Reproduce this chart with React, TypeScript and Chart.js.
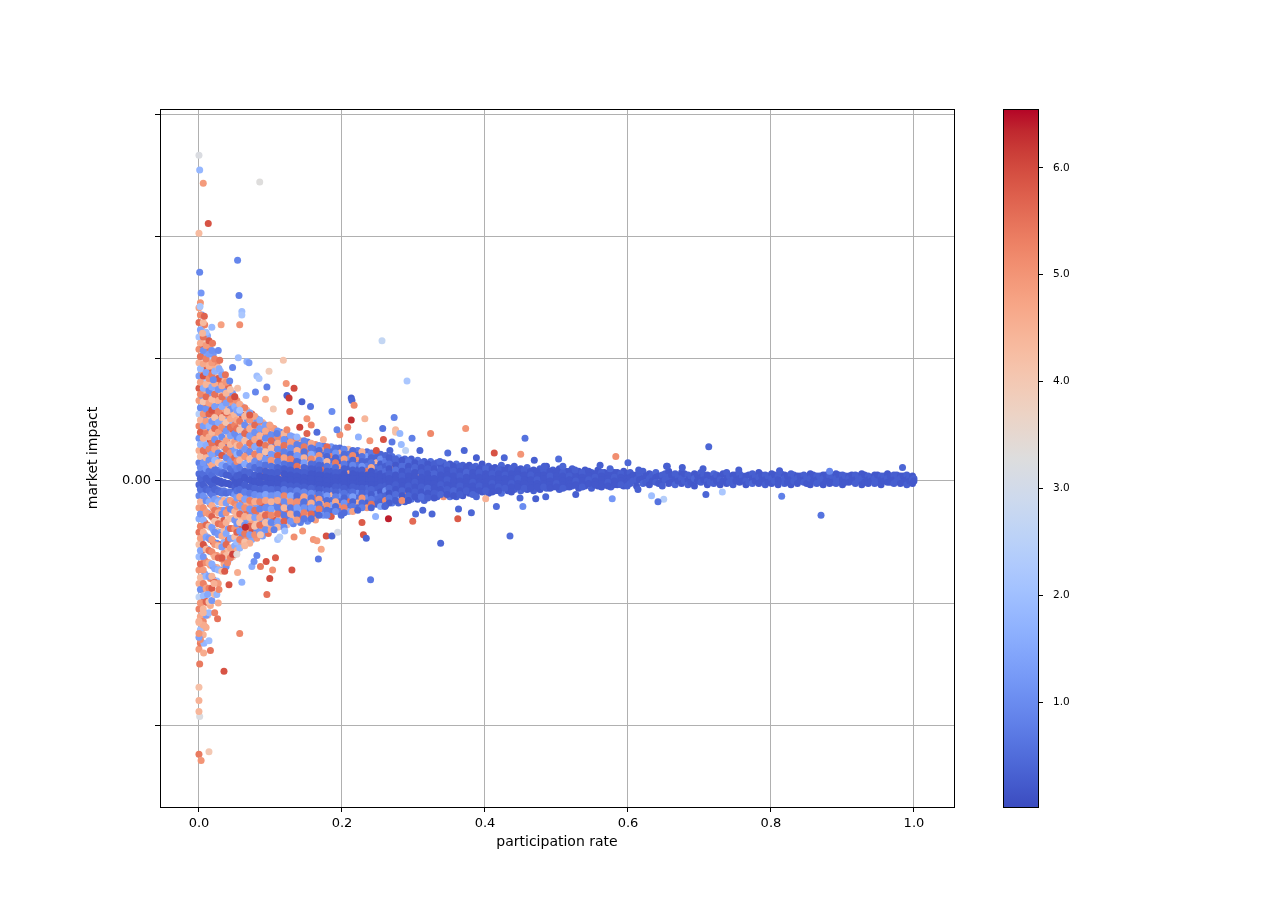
import { useEffect, useRef } from 'react';
import { Chart, registerables } from 'chart.js';

Chart.register(...registerables);

// a column is [x, y0, c0, y1, c1, ...] : one participation rate, several (impact, colour value) pairs
type Column = number[];
type Point = [number, number, number];

const xTicks = [0, 0.2, 0.4, 0.6, 0.8, 1.0];
const yTicks = [-2, -1, 0, 1, 2, 3];
const colorTicks = [1, 2, 3, 4, 5, 6];
const colorMin = 0.02;
const colorMax = 6.55;

const nearZeroColumns: Column[] = [
    [0.000, 1.42,4.8, 1.30,5.6, 1.18,2.1, 1.08,5.1, 0.97,4.4, 0.86,1.3, 0.76,5.8, 0.66,4.9, 0.55,2.4, 0.45,5.3, 0.35,1.1, 0.25,4.6, 0.15,0.8, 0.06,0.5, -0.03,0.4, -0.12,0.9, -0.22,4.9, -0.31,1.6, -0.42,5.5, -0.52,4.2, -0.62,1.9, -0.73,5.0, -0.84,4.6, -0.95,2.6, -1.05,5.3, -1.16,4.4, -1.38,4.9],
    [0.004, 1.36,1.0, 1.24,4.5, 1.12,5.9, 1.02,1.7, 0.91,5.0, 0.81,4.3, 0.70,1.2, 0.60,5.6, 0.50,3.8, 0.40,1.5, 0.30,5.2, 0.20,1.0, 0.10,0.6, 0.01,0.3, -0.08,0.7, -0.17,1.4, -0.27,5.4, -0.37,4.0, -0.47,1.1, -0.57,5.7, -0.68,4.5, -0.79,2.0, -0.89,5.1, -1.00,4.7, -1.10,1.6, -1.21,5.0],
    [0.008, 1.28,5.3, 1.16,4.0, 1.05,1.4, 0.94,5.8, 0.84,2.2, 0.73,4.6, 0.63,5.4, 0.53,1.0, 0.43,4.8, 0.33,2.0, 0.23,5.6, 0.13,0.9, 0.04,0.4, -0.05,0.3, -0.14,1.2, -0.24,4.4, -0.34,5.8, -0.44,1.9, -0.54,4.9, -0.65,5.3, -0.76,1.3, -0.86,4.1, -0.97,5.6, -1.08,2.3, -1.19,4.8],
    [0.012, 1.19,1.6, 1.08,5.5, 0.98,4.3, 0.88,0.9, 0.78,5.0, 0.68,4.7, 0.58,1.8, 0.48,6.0, 0.38,4.2, 0.29,1.2, 0.19,5.1, 0.10,0.8, 0.02,0.3, -0.07,0.5, -0.16,4.7, -0.26,1.5, -0.36,5.2, -0.46,4.6, -0.56,1.1, -0.67,5.8, -0.78,4.3, -0.89,2.1, -1.00,5.0, -1.10,4.4],
    [0.016, 1.12,4.9, 1.01,2.3, 0.91,5.7, 0.81,4.4, 0.71,1.3, 0.61,5.2, 0.52,4.0, 0.42,0.9, 0.33,5.9, 0.24,1.7, 0.15,4.5, 0.07,0.6, -0.01,0.2, -0.10,0.8, -0.19,5.4, -0.28,1.9, -0.38,4.3, -0.48,5.6, -0.58,1.4, -0.69,4.8, -0.80,5.2, -0.91,1.7, -1.02,4.6],
    [0.020, 1.04,1.2, 0.94,4.6, 0.84,5.9, 0.74,1.9, 0.65,4.2, 0.56,5.5, 0.46,1.1, 0.37,4.9, 0.28,2.5, 0.19,5.3, 0.11,0.9, 0.03,0.4, -0.05,0.3, -0.13,1.0, -0.22,5.0, -0.31,4.4, -0.40,1.6, -0.50,5.8, -0.60,4.1, -0.70,1.2, -0.81,5.4, -0.92,4.5],
    [0.025, 0.97,5.2, 0.87,4.1, 0.78,1.5, 0.69,5.7, 0.60,4.4, 0.51,1.0, 0.42,5.0, 0.34,2.2, 0.25,4.7, 0.17,1.3, 0.09,0.7, 0.01,0.3, -0.07,0.6, -0.15,4.8, -0.23,1.8, -0.32,5.5, -0.41,4.2, -0.51,1.0, -0.61,5.1, -0.71,4.6, -0.82,2.0],
    [0.030, 0.90,1.8, 0.81,5.4, 0.72,4.3, 0.64,1.1, 0.55,5.8, 0.47,4.5, 0.39,1.4, 0.31,5.1, 0.23,2.6, 0.15,4.4, 0.08,0.8, 0.00,0.2, -0.08,0.5, -0.16,1.3, -0.24,5.2, -0.33,4.0, -0.42,1.5, -0.52,5.6, -0.62,4.4, -0.73,1.1],
    [0.035, 0.84,4.5, 0.75,1.2, 0.67,5.3, 0.59,4.8, 0.51,1.6, 0.43,5.6, 0.35,4.1, 0.28,0.9, 0.21,5.0, 0.14,1.9, 0.07,0.5, -0.01,0.3, -0.08,0.7, -0.16,4.6, -0.24,1.2, -0.32,5.7, -0.41,4.3, -0.50,1.7, -0.59,5.0, -0.68,4.7],
    [0.041, 0.78,5.6, 0.70,1.5, 0.62,4.6, 0.54,5.2, 0.46,1.0, 0.39,4.3, 0.32,5.8, 0.25,1.6, 0.18,4.9, 0.12,1.1, 0.05,0.4, -0.02,0.2, -0.09,0.8, -0.16,1.5, -0.23,5.3, -0.31,4.1, -0.39,1.3, -0.48,5.5, -0.56,4.4, -0.65,1.9],
    [0.047, 0.72,1.3, 0.64,5.0, 0.57,4.5, 0.49,1.8, 0.42,5.7, 0.35,4.2, 0.28,1.1, 0.21,5.3, 0.15,2.0, 0.09,0.7, 0.03,0.3, -0.03,0.4, -0.10,0.9, -0.17,4.8, -0.24,1.4, -0.31,5.1, -0.39,4.6, -0.47,1.2, -0.55,5.4, -0.62,4.0],
];

const nearZeroFill: Column[] = [
    [0.002, 1.36,5.2, 1.24,1.5, 1.13,4.6, 1.02,5.5, 0.92,1.9, 0.81,4.8, 0.71,5.2, 0.60,1.0, 0.50,4.5, 0.40,5.7, 0.30,1.8, 0.20,4.2, 0.11,1.0, 0.02,0.4, -0.07,0.6, -0.17,4.5, -0.27,1.2, -0.37,5.3, -0.47,4.8, -0.57,1.5, -0.68,5.6, -0.79,4.3, -0.89,1.1, -1.00,5.0, -1.11,4.7, -1.22,2.0, -1.33,5.4],
    [0.006, 1.30,4.3, 1.18,5.5, 1.07,1.1, 0.96,4.7, 0.86,5.9, 0.76,1.6, 0.65,4.1, 0.55,5.0, 0.45,1.3, 0.35,4.6, 0.25,5.5, 0.15,1.2, 0.06,0.5, -0.03,0.3, -0.12,1.1, -0.22,5.1, -0.32,1.7, -0.42,4.5, -0.52,5.9, -0.62,1.2, -0.73,4.9, -0.84,5.3, -0.94,1.9, -1.05,4.4, -1.15,5.2, -1.26,4.5],
    [0.010, 1.22,2.0, 1.11,4.9, 1.00,5.3, 0.89,1.4, 0.79,4.4, 0.69,5.6, 0.59,1.1, 0.49,4.9, 0.39,5.4, 0.29,1.6, 0.19,4.4, 0.10,1.2, 0.02,0.3, -0.07,0.4, -0.16,1.0, -0.26,4.9, -0.36,5.6, -0.46,1.4, -0.56,4.4, -0.67,5.1, -0.78,1.8, -0.88,4.8, -0.99,5.7, -1.10,1.3, -1.20,4.6],
    [0.014, 1.15,5.8, 1.04,1.3, 0.94,4.5, 0.84,5.1, 0.74,1.0, 0.64,4.8, 0.55,5.7, 0.45,1.7, 0.36,4.6, 0.26,5.3, 0.17,1.1, 0.08,0.6, 0.00,0.3, -0.08,0.5, -0.17,1.5, -0.27,5.0, -0.37,4.3, -0.47,1.2, -0.57,5.5, -0.67,4.6, -0.78,1.4, -0.88,5.3, -0.99,4.2, -1.08,1.9],
    [0.018, 1.07,1.1, 0.97,4.9, 0.87,5.4, 0.77,1.5, 0.67,4.3, 0.58,5.9, 0.49,1.2, 0.40,4.4, 0.31,5.5, 0.22,1.4, 0.13,4.7, 0.05,0.5, -0.03,0.3, -0.11,0.7, -0.20,4.6, -0.29,5.7, -0.38,1.3, -0.48,4.9, -0.58,5.2, -0.68,1.6, -0.78,4.4, -0.88,5.8, -0.98,1.2],
    [0.022, 1.00,5.3, 0.90,1.7, 0.80,4.6, 0.71,5.5, 0.61,1.3, 0.52,4.2, 0.43,5.6, 0.34,1.1, 0.26,4.8, 0.17,1.8, 0.09,0.6, 0.01,0.2, -0.07,0.4, -0.15,1.3, -0.24,5.4, -0.33,4.1, -0.42,1.1, -0.52,5.0, -0.62,4.7, -0.72,1.5, -0.83,5.6, -0.93,4.3],
    [0.027, 0.93,4.4, 0.84,5.8, 0.75,1.2, 0.66,4.5, 0.57,5.3, 0.48,1.5, 0.40,4.9, 0.31,5.7, 0.23,1.0, 0.15,4.3, 0.07,0.6, -0.01,0.2, -0.09,0.5, -0.17,1.6, -0.26,4.7, -0.35,5.5, -0.44,1.2, -0.53,4.4, -0.63,5.7, -0.73,1.8, -0.84,4.9],
    [0.032, 0.87,1.4, 0.78,4.7, 0.69,5.5, 0.61,1.6, 0.52,4.3, 0.44,5.1, 0.36,1.0, 0.29,4.6, 0.21,5.8, 0.13,1.4, 0.06,0.5, -0.02,0.2, -0.10,0.6, -0.18,4.4, -0.27,1.1, -0.36,5.3, -0.45,4.6, -0.54,1.3, -0.64,5.4, -0.74,4.2],
    [0.038, 0.81,5.0, 0.72,4.4, 0.64,1.3, 0.56,5.6, 0.48,4.1, 0.41,1.2, 0.33,4.8, 0.26,5.4, 0.19,1.0, 0.12,0.8, 0.05,0.3, -0.02,0.2, -0.10,0.5, -0.18,1.3, -0.26,5.0, -0.34,4.5, -0.43,1.5, -0.52,5.6, -0.61,4.3, -0.70,1.1],
    [0.044, 0.75,4.2, 0.67,5.4, 0.59,1.1, 0.51,4.7, 0.44,5.5, 0.37,1.4, 0.30,4.4, 0.23,5.1, 0.16,1.2, 0.10,0.6, 0.04,0.3, -0.03,0.2, -0.09,0.6, -0.16,4.9, -0.23,1.0, -0.31,4.3, -0.39,5.6, -0.47,1.4, -0.55,4.8, -0.63,5.3],
    [0.050, 0.69,5.5, 0.61,1.6, 0.54,4.4, 0.46,5.3, 0.39,1.0, 0.32,4.9, 0.25,1.3, 0.19,5.6, 0.13,0.9, 0.07,0.5, 0.01,0.2, -0.05,0.3, -0.11,1.1, -0.18,5.2, -0.25,4.5, -0.32,1.2, -0.39,5.0, -0.46,4.3, -0.53,1.6, -0.60,5.5],
];

const middleColumns: Column[] = [
    [0.053, 0.66,5.1, 0.58,1.4, 0.50,4.7, 0.43,5.5, 0.36,1.0, 0.29,4.3, 0.22,1.7, 0.16,5.2, 0.10,0.8, 0.04,0.3, -0.02,0.2, -0.08,0.6, -0.14,1.3, -0.21,5.0, -0.28,4.4, -0.35,1.1, -0.42,5.7, -0.50,1.9, -0.57,4.6],
    [0.060, 0.61,1.9, 0.54,5.8, 0.47,4.0, 0.40,1.2, 0.33,5.0, 0.27,1.6, 0.20,4.8, 0.14,0.9, 0.08,0.5, 0.02,0.2, -0.04,0.3, -0.10,0.9, -0.17,5.3, -0.24,1.5, -0.31,4.5, -0.38,5.6, -0.45,1.0, -0.52,4.9],
    [0.067, 0.58,4.4, 0.51,1.1, 0.44,5.4, 0.38,4.9, 0.31,1.4, 0.25,5.7, 0.19,1.0, 0.13,4.2, 0.07,0.6, 0.01,0.2, -0.05,0.4, -0.11,1.2, -0.18,4.6, -0.25,5.5, -0.32,1.3, -0.39,4.1, -0.46,5.2],
    [0.074, 0.55,5.6, 0.48,1.7, 0.42,4.5, 0.35,1.0, 0.29,5.2, 0.23,4.0, 0.17,1.2, 0.11,0.7, 0.05,0.3, -0.01,0.2, -0.07,0.5, -0.13,1.6, -0.20,5.0, -0.27,1.1, -0.34,4.8, -0.41,5.9, -0.48,1.5],
    [0.081, 0.51,1.2, 0.45,4.9, 0.39,5.5, 0.33,1.5, 0.27,4.4, 0.21,1.0, 0.15,5.3, 0.10,0.6, 0.04,0.3, -0.02,0.2, -0.08,0.8, -0.14,4.7, -0.20,1.3, -0.27,5.4, -0.34,4.2, -0.41,1.0, -0.47,5.0],
    [0.089, 0.48,4.6, 0.42,1.0, 0.36,5.1, 0.30,1.8, 0.24,4.7, 0.19,1.1, 0.13,0.6, 0.08,5.5, 0.03,0.2, -0.03,0.3, -0.08,0.5, -0.14,1.2, -0.20,5.8, -0.26,4.3, -0.32,1.1, -0.39,5.2, -0.45,1.4],
    [0.097, 0.45,1.1, 0.39,5.3, 0.34,4.1, 0.28,1.3, 0.23,5.8, 0.17,0.9, 0.12,4.4, 0.07,0.4, 0.02,0.2, -0.03,0.3, -0.08,0.7, -0.13,4.9, -0.19,1.0, -0.25,5.3, -0.31,1.6, -0.37,4.6, -0.43,5.5],
    [0.105, 0.43,5.0, 0.37,1.4, 0.32,0.8, 0.27,5.6, 0.21,1.1, 0.16,4.5, 0.11,0.5, 0.06,0.3, 0.01,0.2, -0.04,0.4, -0.09,1.0, -0.14,5.1, -0.20,0.9, -0.26,4.4, -0.32,5.8, -0.38,1.2],
    [0.114, 0.40,0.9, 0.35,4.8, 0.30,1.2, 0.25,5.4, 0.20,0.7, 0.15,1.5, 0.10,0.4, 0.05,4.9, 0.01,0.2, -0.04,0.3, -0.09,0.6, -0.14,1.3, -0.19,5.6, -0.25,0.8, -0.31,4.7, -0.37,1.1],
    [0.123, 0.38,5.7, 0.33,0.8, 0.28,4.3, 0.23,1.0, 0.18,5.2, 0.13,0.6, 0.09,0.3, 0.04,0.2, -0.01,0.2, -0.05,0.4, -0.10,0.9, -0.15,4.8, -0.20,1.2, -0.26,5.5, -0.31,0.7, -0.36,4.2],
    [0.132, 0.36,1.0, 0.31,5.0, 0.26,0.7, 0.21,1.6, 0.17,5.8, 0.12,0.5, 0.08,0.3, 0.03,0.2, -0.01,0.2, -0.06,0.5, -0.10,1.4, -0.15,0.8, -0.20,5.3, -0.25,1.0, -0.30,4.6, -0.35,0.9],
    [0.142, 0.33,4.5, 0.29,0.8, 0.24,5.2, 0.20,1.1, 0.15,0.6, 0.11,4.7, 0.07,0.3, 0.03,0.2, -0.02,0.2, -0.06,0.4, -0.10,0.8, -0.15,5.0, -0.19,0.7, -0.24,1.5, -0.29,5.6, -0.34,0.8],
    [0.152, 0.32,0.7, 0.27,1.4, 0.23,5.5, 0.19,0.6, 0.14,4.4, 0.10,0.4, 0.06,0.3, 0.02,0.2, -0.02,0.2, -0.06,0.3, -0.10,0.6, -0.14,1.2, -0.19,5.1, -0.23,0.7, -0.28,4.8, -0.33,1.0],
    [0.163, 0.30,5.1, 0.26,0.6, 0.22,0.9, 0.18,4.6, 0.14,0.5, 0.10,0.3, 0.06,0.2, 0.02,0.2, -0.02,0.2, -0.06,0.3, -0.10,0.7, -0.14,5.4, -0.18,0.8, -0.23,1.3, -0.27,0.6, -0.32,4.9],
    [0.174, 0.29,0.8, 0.25,4.9, 0.21,0.5, 0.17,1.3, 0.13,0.4, 0.09,5.6, 0.05,0.2, 0.01,0.2, -0.03,0.2, -0.07,0.4, -0.11,0.9, -0.15,0.5, -0.19,4.7, -0.23,0.7, -0.28,1.1],
    [0.185, 0.28,1.2, 0.24,0.6, 0.20,5.3, 0.16,0.5, 0.12,0.9, 0.08,0.3, 0.04,0.2, 0.00,0.2, -0.04,0.2, -0.08,0.5, -0.12,4.5, -0.16,0.6, -0.20,1.4, -0.25,0.5, -0.29,5.8],
    [0.197, 0.27,0.5, 0.23,4.7, 0.19,0.8, 0.15,0.4, 0.11,5.0, 0.07,0.3, 0.03,0.2, -0.01,0.2, -0.05,0.3, -0.09,0.6, -0.13,1.1, -0.17,0.5, -0.21,5.2, -0.25,0.7],
    [0.209, 0.26,4.3, 0.22,0.6, 0.18,1.0, 0.14,0.4, 0.10,0.3, 0.06,4.8, 0.03,0.2, -0.01,0.2, -0.05,0.2, -0.09,0.4, -0.13,0.8, -0.17,5.5, -0.21,0.6, -0.25,1.3],
    [0.222, 0.25,0.7, 0.21,0.4, 0.17,5.1, 0.13,0.6, 0.09,0.3, 0.05,0.2, 0.02,0.2, -0.02,0.2, -0.06,0.3, -0.10,1.0, -0.14,0.5, -0.18,4.6, -0.22,0.5],
    [0.235, 0.24,0.5, 0.20,1.3, 0.16,0.4, 0.12,0.7, 0.08,5.4, 0.05,0.2, 0.01,0.2, -0.03,0.2, -0.06,0.4, -0.10,0.5, -0.14,0.9, -0.18,0.4, -0.22,5.0],
    [0.248, 0.23,0.6, 0.19,0.4, 0.15,4.5, 0.11,0.5, 0.07,0.3, 0.04,0.2, 0.00,0.2, -0.03,0.2, -0.07,0.3, -0.11,0.8, -0.15,0.5, -0.19,0.4],
];

const middleFill: Column[] = [
    [0.057, 0.63,4.6, 0.56,1.2, 0.49,5.4, 0.42,4.2, 0.35,1.5, 0.29,5.1, 0.23,0.9, 0.17,4.5, 0.11,0.7, 0.05,0.3, -0.01,0.2, -0.07,0.5, -0.13,4.8, -0.20,1.3, -0.27,5.6, -0.34,4.1, -0.41,1.2, -0.48,5.3, -0.55,1.8],
    [0.064, 0.60,5.3, 0.53,4.4, 0.46,1.0, 0.39,5.6, 0.33,4.3, 0.26,1.2, 0.20,5.0, 0.14,1.5, 0.08,0.4, 0.03,0.2, -0.03,0.3, -0.09,0.8, -0.15,1.4, -0.22,5.1, -0.29,4.6, -0.36,1.1, -0.43,5.4, -0.50,4.2],
    [0.071, 0.56,1.5, 0.50,5.0, 0.43,4.6, 0.37,1.3, 0.31,5.5, 0.24,1.0, 0.18,4.4, 0.12,0.8, 0.07,0.4, 0.01,0.2, -0.05,0.3, -0.10,0.7, -0.16,5.3, -0.23,1.2, -0.30,4.4, -0.37,5.7, -0.44,1.3, -0.51,4.6],
    [0.078, 0.53,4.8, 0.46,5.6, 0.40,1.1, 0.34,4.7, 0.28,1.5, 0.22,5.3, 0.16,1.0, 0.11,0.5, 0.05,0.3, 0.00,0.2, -0.06,0.4, -0.11,1.0, -0.17,4.6, -0.24,5.5, -0.30,1.4, -0.37,4.2, -0.44,5.1],
    [0.085, 0.49,5.4, 0.43,1.3, 0.37,4.5, 0.31,5.9, 0.25,1.1, 0.20,4.6, 0.14,0.8, 0.09,0.4, 0.04,0.2, -0.01,0.2, -0.07,0.4, -0.12,1.1, -0.17,5.3, -0.23,0.9, -0.30,4.7, -0.36,5.5, -0.42,1.2],
    [0.093, 0.46,1.3, 0.41,4.7, 0.35,1.0, 0.29,5.4, 0.24,4.2, 0.18,1.2, 0.13,0.6, 0.08,0.3, 0.03,0.2, -0.02,0.2, -0.06,0.5, -0.11,1.4, -0.16,4.8, -0.22,1.0, -0.28,5.6, -0.34,4.3, -0.40,1.1],
    [0.101, 0.44,4.9, 0.38,1.0, 0.33,5.6, 0.27,4.3, 0.22,1.2, 0.17,5.0, 0.12,0.6, 0.07,0.3, 0.02,0.2, -0.02,0.2, -0.07,0.5, -0.12,1.1, -0.17,4.5, -0.23,1.4, -0.28,5.2, -0.34,0.9, -0.40,4.8],
    [0.110, 0.41,1.2, 0.36,5.2, 0.31,4.6, 0.26,1.0, 0.21,5.7, 0.16,0.8, 0.11,0.4, 0.07,0.3, 0.02,0.2, -0.02,0.2, -0.07,0.4, -0.11,1.2, -0.16,4.7, -0.22,0.8, -0.27,5.5, -0.33,1.3, -0.38,4.4],
    [0.119, 0.39,4.4, 0.34,1.1, 0.29,5.5, 0.24,0.8, 0.19,4.8, 0.14,0.6, 0.10,0.3, 0.06,0.2, 0.01,0.2, -0.03,0.3, -0.07,0.7, -0.12,5.2, -0.17,1.0, -0.22,4.4, -0.28,0.7, -0.33,5.7, -0.38,1.0],
    [0.128, 0.37,1.4, 0.32,4.9, 0.27,1.0, 0.22,0.6, 0.18,5.3, 0.13,0.5, 0.09,0.3, 0.05,0.2, 0.01,0.2, -0.04,0.3, -0.08,0.6, -0.12,1.5, -0.17,5.0, -0.22,0.7, -0.27,4.6, -0.33,1.2],
    [0.137, 0.35,5.2, 0.30,0.8, 0.25,4.6, 0.21,1.2, 0.16,0.5, 0.12,5.5, 0.08,0.3, 0.04,0.2, 0.00,0.2, -0.04,0.3, -0.08,0.8, -0.12,0.5, -0.17,5.1, -0.22,1.3, -0.27,0.6, -0.32,4.9],
    [0.147, 0.33,0.9, 0.28,5.4, 0.24,0.6, 0.19,4.5, 0.15,1.3, 0.11,0.4, 0.07,0.3, 0.03,0.2, -0.01,0.2, -0.05,0.3, -0.09,0.9, -0.13,4.8, -0.17,0.6, -0.22,1.1, -0.26,5.3, -0.31,0.7],
    [0.157, 0.31,4.7, 0.27,0.7, 0.22,1.5, 0.18,5.2, 0.14,0.5, 0.10,0.3, 0.06,0.2, 0.02,0.2, -0.02,0.2, -0.06,0.4, -0.10,1.0, -0.14,0.6, -0.18,4.6, -0.22,1.2, -0.27,5.6, -0.31,0.6],
    [0.168, 0.29,1.1, 0.25,0.5, 0.21,5.0, 0.17,0.8, 0.13,0.4, 0.09,0.3, 0.05,0.2, 0.01,0.2, -0.03,0.2, -0.07,0.3, -0.11,0.6, -0.15,4.9, -0.19,0.7, -0.23,5.4, -0.28,0.5],
    [0.179, 0.28,5.6, 0.24,0.7, 0.20,0.4, 0.16,4.4, 0.12,0.6, 0.08,0.3, 0.04,0.2, 0.00,0.2, -0.04,0.2, -0.08,0.4, -0.12,1.2, -0.16,0.5, -0.20,5.1, -0.24,0.6, -0.28,0.9],
    [0.191, 0.27,0.6, 0.23,1.1, 0.19,0.4, 0.15,5.4, 0.11,0.5, 0.07,0.3, 0.03,0.2, -0.01,0.2, -0.05,0.3, -0.09,0.4, -0.13,0.8, -0.17,4.7, -0.21,0.5, -0.25,1.0],
    [0.203, 0.26,0.9, 0.22,0.5, 0.18,4.9, 0.14,0.7, 0.10,0.3, 0.06,0.2, 0.02,0.2, -0.02,0.2, -0.06,0.3, -0.10,0.6, -0.14,0.4, -0.18,1.1, -0.22,5.3, -0.26,0.5],
    [0.215, 0.25,0.5, 0.21,5.2, 0.17,0.4, 0.13,0.9, 0.09,0.3, 0.06,0.2, 0.02,0.2, -0.02,0.2, -0.05,0.3, -0.09,0.5, -0.13,1.3, -0.17,0.4, -0.21,0.7, -0.25,4.8],
    [0.228, 0.24,4.6, 0.20,0.6, 0.16,0.4, 0.12,1.1, 0.09,0.3, 0.05,0.2, 0.01,0.2, -0.02,0.2, -0.06,0.3, -0.10,0.4, -0.14,5.0, -0.18,0.5, -0.22,0.8],
    [0.241, 0.23,0.7, 0.19,0.4, 0.15,0.6, 0.11,4.7, 0.08,0.2, 0.04,0.2, 0.01,0.2, -0.03,0.2, -0.07,0.4, -0.11,0.3, -0.15,0.7, -0.19,5.5, -0.22,0.4],
    [0.254, 0.22,0.4, 0.18,1.0, 0.14,0.3, 0.10,0.5, 0.06,0.2, 0.03,0.2, -0.01,0.2, -0.05,0.3, -0.09,0.2, -0.13,0.5, -0.17,0.4, -0.21,1.4],
];

const tailColumns: Column[] = [
    [0.261, 0.21,0.4, 0.16,0.7, 0.12,0.3, 0.08,0.5, 0.04,0.2, 0.00,0.2, -0.04,0.3, -0.08,1.1, -0.12,0.4, -0.16,5.2, -0.20,0.5],
    [0.270, 0.20,0.5, 0.15,0.3, 0.11,4.9, 0.07,0.4, 0.03,0.2, -0.01,0.2, -0.05,0.3, -0.09,0.6, -0.13,0.3, -0.18,0.7],
    [0.279, 0.19,1.2, 0.14,0.4, 0.10,0.3, 0.06,0.5, 0.02,0.2, -0.02,0.2, -0.06,0.4, -0.10,0.3, -0.14,1.6, -0.18,0.4],
    [0.288, 0.18,0.4, 0.14,0.6, 0.10,0.3, 0.06,0.2, 0.02,0.2, -0.02,0.2, -0.06,0.3, -0.10,5.3, -0.14,0.5, -0.17,0.3],
    [0.297, 0.18,0.3, 0.13,0.5, 0.09,0.9, 0.05,0.2, 0.01,0.2, -0.03,0.2, -0.07,0.4, -0.11,0.3, -0.15,0.6],
    [0.306, 0.17,0.6, 0.13,0.3, 0.09,0.2, 0.05,4.6, 0.01,0.2, -0.03,0.2, -0.07,0.3, -0.11,0.5, -0.15,0.3],
    [0.315, 0.16,0.3, 0.12,0.4, 0.08,0.2, 0.04,0.3, 0.00,0.2, -0.04,0.2, -0.08,1.0, -0.12,0.3, -0.16,0.4],
    [0.324, 0.16,0.5, 0.12,0.3, 0.08,0.6, 0.04,0.2, 0.00,0.2, -0.04,0.3, -0.08,0.2, -0.12,0.4],
    [0.333, 0.15,0.3, 0.11,1.4, 0.07,0.2, 0.03,0.3, -0.01,0.2, -0.05,0.2, -0.09,0.4, -0.13,0.3],
    [0.342, 0.15,0.4, 0.11,0.2, 0.07,0.3, 0.03,0.2, -0.01,0.2, -0.05,0.5, -0.09,0.2, -0.13,5.0],
    [0.351, 0.14,0.2, 0.10,0.4, 0.06,0.2, 0.02,0.3, -0.02,0.2, -0.06,0.2, -0.10,0.3, -0.13,0.6],
    [0.360, 0.14,0.5, 0.10,0.2, 0.06,0.3, 0.02,0.2, -0.02,0.2, -0.06,0.4, -0.10,0.2, -0.13,0.3],
    [0.369, 0.13,0.3, 0.09,0.2, 0.05,0.4, 0.02,0.2, -0.02,0.3, -0.06,0.2, -0.09,0.5, -0.12,0.2],
    [0.378, 0.13,0.2, 0.09,0.3, 0.05,0.2, 0.01,0.2, -0.03,0.2, -0.06,0.3, -0.10,0.2],
    [0.387, 0.12,0.4, 0.08,0.2, 0.05,0.3, 0.01,0.2, -0.02,0.2, -0.06,0.2, -0.10,0.4],
    [0.396, 0.14,0.2, 0.10,0.3, 0.06,0.2, 0.02,0.2, -0.02,0.3, -0.06,0.2, -0.09,0.2],
    [0.405, 0.12,0.3, 0.08,0.2, 0.04,0.2, 0.01,0.3, -0.03,0.2, -0.07,0.4, -0.10,0.2],
    [0.414, 0.11,0.2, 0.07,0.4, 0.04,0.2, 0.00,0.2, -0.04,0.2, -0.08,0.3],
    [0.423, 0.13,0.4, 0.09,0.2, 0.05,0.2, 0.01,0.2, -0.03,0.3, -0.06,0.2, -0.10,0.5],
    [0.432, 0.11,0.2, 0.07,0.3, 0.03,0.2, 0.00,0.2, -0.04,0.2, -0.08,0.2],
    [0.441, 0.12,0.3, 0.08,0.2, 0.04,0.4, 0.01,0.2, -0.03,0.2, -0.07,0.3],
    [0.450, 0.10,0.2, 0.06,0.2, 0.03,0.3, -0.01,0.2, -0.05,0.2, -0.08,0.4],
    [0.459, 0.11,0.4, 0.07,0.2, 0.03,0.2, 0.00,0.2, -0.04,0.3, -0.07,0.2],
    [0.468, 0.09,0.2, 0.06,0.3, 0.02,0.2, -0.01,0.2, -0.05,0.2, -0.08,0.3],
    [0.477, 0.10,0.3, 0.07,0.2, 0.03,0.2, 0.00,0.3, -0.04,0.2, -0.07,0.2],
    [0.486, 0.12,0.2, 0.08,0.3, 0.04,0.2, 0.01,0.2, -0.03,0.2, -0.06,0.4],
    [0.495, 0.09,0.3, 0.05,0.2, 0.02,0.2, -0.02,0.3, -0.05,0.2],
    [0.504, 0.10,0.2, 0.06,0.2, 0.03,0.3, -0.01,0.2, -0.04,0.2, -0.07,0.3],
    [0.513, 0.08,0.2, 0.05,0.3, 0.01,0.2, -0.02,0.2, -0.05,0.2],
    [0.522, 0.10,0.3, 0.06,0.2, 0.03,0.2, 0.00,0.2, -0.04,0.3],
    [0.531, 0.08,0.2, 0.04,0.2, 0.01,0.3, -0.02,0.2, -0.06,0.2],
    [0.540, 0.09,0.2, 0.05,0.3, 0.02,0.2, -0.01,0.2, -0.04,0.2],
    [0.549, 0.07,0.3, 0.04,0.2, 0.01,0.2, -0.03,0.2, -0.06,0.3],
    [0.558, 0.09,0.2, 0.05,0.2, 0.02,0.3, -0.01,0.2, -0.04,0.2],
    [0.567, 0.07,0.2, 0.03,0.3, 0.00,0.2, -0.03,0.2],
    [0.576, 0.08,0.3, 0.05,0.2, 0.02,0.2, -0.02,0.2, -0.05,0.3],
    [0.585, 0.07,0.2, 0.03,0.2, 0.00,0.3, -0.03,0.2],
    [0.594, 0.08,0.2, 0.05,0.3, 0.02,0.2, -0.01,0.2, -0.04,0.2],
];

const tailFill: Column[] = [
    [0.266, 0.19,0.3, 0.14,0.5, 0.10,0.2, 0.06,0.3, 0.02,0.2, -0.02,0.2, -0.06,0.4, -0.10,0.2, -0.14,0.6, -0.18,0.3],
    [0.275, 0.18,0.4, 0.13,0.2, 0.09,0.6, 0.05,0.2, 0.01,0.2, -0.03,0.3, -0.07,0.2, -0.11,0.5, -0.16,0.3],
    [0.284, 0.17,0.2, 0.12,0.5, 0.08,0.2, 0.04,0.3, 0.00,0.2, -0.04,0.2, -0.08,0.4, -0.12,0.2, -0.16,5.1],
    [0.293, 0.16,0.5, 0.12,0.2, 0.08,0.3, 0.04,0.2, 0.00,0.2, -0.04,0.3, -0.08,0.2, -0.12,0.4, -0.16,0.2],
    [0.302, 0.15,0.2, 0.11,0.4, 0.07,0.2, 0.03,0.2, -0.01,0.3, -0.05,0.2, -0.09,0.3, -0.13,0.2],
    [0.311, 0.15,0.4, 0.11,0.2, 0.07,0.3, 0.03,0.2, -0.01,0.2, -0.05,0.3, -0.09,0.2, -0.13,0.5],
    [0.320, 0.14,0.2, 0.10,0.3, 0.06,0.2, 0.02,0.2, -0.02,0.2, -0.06,0.4, -0.10,0.2, -0.14,0.3],
    [0.329, 0.14,0.3, 0.10,0.2, 0.06,0.4, 0.02,0.2, -0.02,0.2, -0.06,0.2, -0.10,0.3, -0.14,0.2],
    [0.338, 0.13,0.2, 0.09,0.3, 0.05,0.2, 0.01,0.2, -0.03,0.3, -0.07,0.2, -0.11,0.4],
    [0.347, 0.13,0.4, 0.09,0.2, 0.05,0.2, 0.01,0.3, -0.03,0.2, -0.07,0.3, -0.11,0.2],
    [0.356, 0.12,0.2, 0.08,0.3, 0.04,0.2, 0.00,0.2, -0.04,0.2, -0.08,0.4, -0.12,0.2],
    [0.365, 0.12,0.3, 0.08,0.2, 0.04,0.3, 0.00,0.2, -0.04,0.3, -0.08,0.2, -0.11,0.3],
    [0.374, 0.11,0.2, 0.07,0.4, 0.03,0.2, -0.01,0.2, -0.05,0.2, -0.08,0.3],
    [0.383, 0.11,0.3, 0.07,0.2, 0.03,0.2, -0.01,0.3, -0.04,0.2, -0.08,0.2, -0.11,0.4],
    [0.392, 0.10,0.2, 0.07,0.3, 0.03,0.2, -0.01,0.2, -0.04,0.3, -0.08,0.2],
    [0.401, 0.10,0.4, 0.06,0.2, 0.03,0.2, -0.01,0.2, -0.05,0.2, -0.08,0.3],
    [0.410, 0.10,0.2, 0.06,0.3, 0.02,0.2, -0.02,0.3, -0.05,0.2, -0.09,0.2],
    [0.419, 0.09,0.3, 0.06,0.2, 0.02,0.2, -0.02,0.2, -0.05,0.3, -0.08,0.2],
    [0.428, 0.09,0.2, 0.05,0.3, 0.02,0.2, -0.02,0.2, -0.06,0.3],
    [0.437, 0.10,0.3, 0.06,0.2, 0.02,0.2, -0.02,0.3, -0.05,0.2, -0.09,0.2],
    [0.446, 0.09,0.2, 0.05,0.2, 0.02,0.3, -0.02,0.2, -0.05,0.2],
    [0.455, 0.09,0.3, 0.05,0.2, 0.01,0.2, -0.02,0.2, -0.06,0.3],
    [0.464, 0.08,0.2, 0.05,0.3, 0.01,0.2, -0.03,0.2, -0.06,0.2],
    [0.473, 0.08,0.2, 0.04,0.2, 0.01,0.3, -0.02,0.2, -0.05,0.2],
    [0.482, 0.09,0.3, 0.05,0.2, 0.02,0.2, -0.02,0.2, -0.05,0.3],
    [0.491, 0.08,0.2, 0.04,0.3, 0.00,0.2, -0.03,0.2, -0.06,0.2],
    [0.500, 0.08,0.2, 0.04,0.2, 0.01,0.2, -0.02,0.3, -0.05,0.2],
    [0.509, 0.07,0.3, 0.04,0.2, 0.00,0.2, -0.03,0.2],
    [0.518, 0.08,0.2, 0.04,0.3, 0.01,0.2, -0.02,0.2, -0.05,0.2],
    [0.527, 0.07,0.2, 0.03,0.2, 0.00,0.3, -0.03,0.2],
    [0.536, 0.07,0.3, 0.03,0.2, 0.00,0.2, -0.03,0.2, -0.05,0.3],
    [0.545, 0.08,0.2, 0.04,0.2, 0.01,0.3, -0.02,0.2],
    [0.554, 0.06,0.2, 0.03,0.3, 0.00,0.2, -0.03,0.2],
    [0.563, 0.07,0.3, 0.04,0.2, 0.01,0.2, -0.02,0.2, -0.05,0.2],
    [0.572, 0.06,0.2, 0.02,0.2, -0.01,0.3, -0.04,0.2],
    [0.581, 0.07,0.2, 0.03,0.3, 0.00,0.2, -0.03,0.2],
    [0.590, 0.06,0.3, 0.03,0.2, 0.00,0.2, -0.03,0.3],
    [0.599, 0.06,0.2, 0.02,0.2, -0.01,0.2, -0.04,0.3],
];

const flatColumns: Column[] = [
    [0.603, 0.07,0.3, 0.03,0.2, -0.02,0.3], [0.607, 0.05,0.2, 0.00,0.3],
    [0.612, 0.05,0.2, 0.01,0.3, -0.04,0.2], [0.616, 0.06,0.3, 0.01,0.2],
    [0.621, 0.08,0.3, 0.02,0.2, -0.02,0.4], [0.625, 0.04,0.2, -0.01,0.3],
    [0.630, 0.06,0.2, 0.02,0.3, -0.03,0.2], [0.634, 0.05,0.3, 0.00,0.2],
    [0.639, 0.07,0.4, 0.03,0.2, -0.01,0.3], [0.643, 0.04,0.2, -0.02,0.2],
    [0.648, 0.05,0.3, 0.00,0.2, -0.04,0.3], [0.652, 0.06,0.3, 0.01,0.3],
    [0.657, 0.08,0.2, 0.03,0.3, -0.02,0.2], [0.661, 0.05,0.2, -0.01,0.2],
    [0.666, 0.06,0.3, 0.01,0.2, -0.03,0.4], [0.670, 0.04,0.3, 0.00,0.2],
    [0.675, 0.07,0.2, 0.02,0.3, -0.02,0.2], [0.679, 0.06,0.2, 0.00,0.3],
    [0.684, 0.05,0.3, 0.01,0.2, -0.03,0.3], [0.688, 0.04,0.3, -0.01,0.2],
    [0.693, 0.06,0.2, 0.02,0.4, -0.04,0.2], [0.697, 0.05,0.2, 0.00,0.2],
    [0.702, 0.07,0.3, 0.03,0.2, -0.01,0.3], [0.706, 0.05,0.3, 0.01,0.2],
    [0.711, 0.05,0.2, 0.00,0.3, -0.03,0.2], [0.715, 0.04,0.2, -0.01,0.3],
    [0.720, 0.06,0.4, 0.02,0.2, -0.02,0.3], [0.724, 0.05,0.3, 0.00,0.2],
    [0.729, 0.04,0.2, 0.01,0.3, -0.03,0.2], [0.733, 0.06,0.2, 0.00,0.2],
    [0.738, 0.07,0.3, 0.02,0.2, -0.02,0.2], [0.742, 0.04,0.3, -0.01,0.3],
    [0.747, 0.05,0.2, 0.01,0.3, -0.03,0.3], [0.751, 0.05,0.2, 0.00,0.2],
    [0.756, 0.06,0.3, 0.02,0.2, -0.01,0.2], [0.760, 0.04,0.3, 0.00,0.2],
    [0.765, 0.04,0.2, 0.00,0.3, -0.03,0.2], [0.769, 0.05,0.2, -0.01,0.3],
    [0.774, 0.06,0.3, 0.02,0.2, -0.02,0.4], [0.778, 0.04,0.3, 0.00,0.2],
    [0.783, 0.07,0.2, 0.03,0.3, -0.02,0.2], [0.787, 0.05,0.2, 0.00,0.2],
    [0.792, 0.05,0.3, 0.01,0.2, -0.03,0.3], [0.796, 0.04,0.3, -0.01,0.2],
    [0.801, 0.06,0.2, 0.02,0.3, -0.02,0.2], [0.805, 0.05,0.2, 0.00,0.3],
    [0.810, 0.04,0.3, 0.01,0.2, -0.03,0.2], [0.814, 0.06,0.3, 0.00,0.2],
    [0.819, 0.05,0.2, 0.02,0.3, -0.02,0.3], [0.823, 0.04,0.2, -0.01,0.2],
    [0.828, 0.06,0.3, 0.01,0.2, -0.03,0.2], [0.832, 0.05,0.3, 0.00,0.3],
    [0.837, 0.04,0.2, 0.02,0.3, -0.02,0.2], [0.841, 0.04,0.2, 0.00,0.2],
    [0.846, 0.05,0.3, 0.01,0.2, -0.01,0.3], [0.850, 0.03,0.3, -0.02,0.2],
    [0.855, 0.06,0.2, 0.02,0.3, -0.03,0.2], [0.859, 0.05,0.2, 0.00,0.2],
    [0.864, 0.04,0.3, 0.01,0.2, -0.02,0.3], [0.868, 0.04,0.3, -0.01,0.3],
    [0.873, 0.05,0.2, 0.02,0.3, -0.03,0.2], [0.877, 0.05,0.2, 0.00,0.2],
    [0.882, 0.04,0.3, 0.00,0.2, -0.02,0.2], [0.886, 0.04,0.3, -0.01,0.2],
    [0.891, 0.06,0.2, 0.02,0.3, -0.02,0.3], [0.895, 0.05,0.2, 0.00,0.3],
    [0.900, 0.05,0.3, 0.01,0.2, -0.03,0.2], [0.904, 0.04,0.3, -0.01,0.2],
    [0.909, 0.04,0.2, 0.02,0.3, -0.01,0.2], [0.913, 0.05,0.2, 0.00,0.2],
    [0.918, 0.05,0.3, 0.01,0.2, -0.02,0.3], [0.922, 0.04,0.3, 0.00,0.3],
    [0.927, 0.06,0.2, 0.02,0.3, -0.03,0.2], [0.931, 0.05,0.2, -0.01,0.2],
    [0.936, 0.04,0.3, 0.01,0.2, -0.02,0.2], [0.940, 0.03,0.3, 0.00,0.2],
    [0.945, 0.05,0.2, 0.02,0.3, -0.02,0.3], [0.949, 0.05,0.2, -0.01,0.3],
    [0.954, 0.04,0.3, 0.01,0.2, -0.03,0.2], [0.958, 0.04,0.3, 0.00,0.2],
    [0.963, 0.06,0.2, 0.02,0.3, -0.01,0.2], [0.967, 0.04,0.2, -0.01,0.2],
    [0.972, 0.05,0.3, 0.01,0.2, -0.02,0.3], [0.976, 0.05,0.3, 0.00,0.3],
    [0.981, 0.04,0.2, 0.02,0.3, -0.02,0.2], [0.985, 0.04,0.2, -0.01,0.2],
    [0.990, 0.05,0.3, 0.01,0.2, -0.03,0.3], [0.994, 0.03,0.3, 0.00,0.2],
    [0.998, 0.04,0.2, 0.01,0.3, -0.02,0.2], [1.000, 0.02,0.3, 0.00,0.2],
];

const upperStragglers: Point[] = [
    [0.000, 2.67, 3.2], [0.001, 2.55, 1.8], [0.006, 2.44, 4.9], [0.085, 2.45, 3.3], [0.013, 2.11, 5.9],
    [0.000, 2.03, 4.3], [0.054, 1.81, 0.9], [0.001, 1.71, 0.9], [0.003, 1.54, 1.2], [0.056, 1.52, 0.8],
    [0.002, 1.46, 5.0], [0.0015, 1.43, 2.2], [0.060, 1.39, 2.0], [0.060, 1.36, 2.2], [0.0075, 1.35, 5.7],
    [0.031, 1.28, 4.8], [0.057, 1.28, 5.1], [0.018, 1.26, 1.9], [0.005, 1.21, 4.4], [0.019, 1.13, 5.4],
    [0.027, 1.07, 1.0], [0.029, 0.99, 5.5], [0.055, 1.01, 2.0], [0.067, 0.98, 1.7], [0.070, 0.97, 1.3],
    [0.047, 0.93, 0.9], [0.118, 0.99, 4.1], [0.028, 0.92, 1.6], [0.037, 0.87, 5.5], [0.081, 0.86, 2.0],
    [0.084, 0.84, 2.2], [0.098, 0.90, 3.9], [0.020, 0.83, 1.0], [0.122, 0.80, 5.0], [0.133, 0.76, 6.0],
    [0.095, 0.77, 0.8], [0.054, 0.76, 4.2], [0.043, 0.82, 0.9], [0.050, 0.69, 6.0], [0.079, 0.73, 0.9],
    [0.066, 0.70, 1.9], [0.123, 0.70, 0.3], [0.126, 0.68, 6.2], [0.093, 0.67, 4.6], [0.144, 0.65, 0.3],
    [0.156, 0.61, 0.6], [0.186, 0.57, 1.0], [0.104, 0.59, 4.0], [0.127, 0.57, 5.6], [0.213, 0.68, 0.3],
    [0.214, 0.66, 0.4], [0.217, 0.62, 5.2], [0.213, 0.50, 6.3], [0.232, 0.51, 4.4], [0.273, 0.52, 0.8],
    [0.257, 0.43, 0.6], [0.258, 0.34, 5.9], [0.256, 1.15, 2.7], [0.291, 0.82, 2.2], [0.141, 0.44, 6.1],
    [0.151, 0.51, 5.0], [0.157, 0.46, 5.3], [0.208, 0.44, 5.3], [0.197, 0.38, 5.1], [0.223, 0.36, 1.7],
    [0.275, 0.42, 4.3], [0.275, 0.40, 4.2], [0.281, 0.39, 1.8], [0.324, 0.39, 5.2], [0.373, 0.43, 5.0],
    [0.298, 0.35, 0.8], [0.456, 0.35, 0.6], [0.413, 0.23, 5.9], [0.450, 0.22, 5.0], [0.503, 0.18, 0.5],
    [0.583, 0.20, 5.1], [0.600, 0.15, 0.4], [0.348, 0.23, 0.5], [0.371, 0.25, 0.4], [0.713, 0.28, 0.4],
    [0.984, 0.11, 0.4], [0.882, 0.08, 0.9], [0.676, 0.11, 0.3], [0.654, 0.12, 0.3], [0.705, 0.10, 0.3],
    [0.755, 0.09, 0.3], [0.812, 0.085, 0.3], [0.270, 0.32, 0.7], [0.283, 0.30, 1.9], [0.289, 0.25, 2.6],
    [0.309, 0.25, 0.4], [0.337, 0.16, 0.4], [0.388, 0.19, 0.3], [0.427, 0.19, 0.4], [0.469, 0.17, 0.3],
    [0.483, 0.12, 0.3], [0.509, 0.12, 0.4], [0.526, 0.09, 0.3], [0.561, 0.13, 0.3], [0.575, 0.10, 0.4],
    [0.615, 0.09, 0.3], [0.655, 0.12, 0.3], [0.165, 0.40, 0.5], [0.174, 0.34, 4.5], [0.193, 0.42, 0.9],
    [0.239, 0.33, 5.0], [0.248, 0.25, 5.9], [0.267, 0.25, 0.4], [0.151, 0.39, 5.7], [0.137, 0.36, 1.8],
    [0.123, 0.42, 5.2], [0.109, 0.39, 0.8], [0.099, 0.46, 4.8], [0.085, 0.50, 1.6], [0.071, 0.54, 5.8],
    [0.057, 0.58, 2.1], [0.039, 0.57, 4.3],
];

const lowerStragglers: Point[] = [
    [0.000, -2.24, 5.4], [0.003, -2.29, 5.0], [0.014, -2.22, 4.0], [0.001, -1.93, 3.2], [0.000, -1.89, 4.4],
    [0.000, -1.80, 4.5], [0.000, -1.69, 4.2], [0.035, -1.56, 5.9], [0.001, -1.50, 5.4], [0.016, -1.39, 5.5],
    [0.0065, -1.41, 4.6], [0.057, -1.25, 5.2], [0.007, -1.33, 1.8], [0.014, -1.31, 2.0], [0.002, -1.30, 5.1],
    [0.000, -1.28, 1.4], [0.000, -1.25, 5.0], [0.006, -1.18, 4.6], [0.000, -1.15, 4.5], [0.026, -1.13, 5.5],
    [0.022, -1.08, 5.3], [0.027, -1.00, 4.6], [0.095, -0.93, 5.5], [0.006, -1.08, 4.4], [0.012, -0.93, 1.5],
    [0.025, -0.93, 1.8], [0.028, -0.89, 5.2], [0.042, -0.85, 5.9], [0.060, -0.83, 1.7], [0.054, -0.75, 4.6],
    [0.036, -0.74, 5.8], [0.099, -0.80, 6.0], [0.130, -0.73, 5.9], [0.103, -0.73, 5.1], [0.086, -0.70, 5.4],
    [0.074, -0.70, 1.6], [0.077, -0.66, 1.1], [0.081, -0.61, 0.9], [0.094, -0.66, 5.9], [0.107, -0.63, 5.8],
    [0.047, -0.60, 6.1], [0.053, -0.60, 3.4], [0.167, -0.64, 0.7], [0.171, -0.56, 4.7], [0.160, -0.48, 5.0],
    [0.165, -0.49, 4.9], [0.133, -0.46, 5.1], [0.178, -0.45, 5.9], [0.186, -0.45, 0.4], [0.194, -0.42, 3.1],
    [0.110, -0.48, 2.1], [0.113, -0.46, 2.4], [0.120, -0.41, 2.0], [0.105, -0.40, 0.8], [0.145, -0.41, 5.0],
    [0.230, -0.44, 5.9], [0.234, -0.47, 0.4], [0.240, -0.81, 0.7], [0.265, -0.31, 6.4], [0.228, -0.34, 5.8],
    [0.247, -0.29, 1.7], [0.199, -0.28, 0.5], [0.222, -0.24, 0.4], [0.064, -0.53, 4.4], [0.065, -0.38, 6.3],
    [0.086, -0.44, 4.1], [0.032, -0.63, 5.8], [0.040, -0.67, 5.2], [0.021, -0.84, 4.5], [0.401, -0.145, 4.5],
    [0.416, -0.21, 0.5], [0.453, -0.21, 1.0], [0.449, -0.14, 0.4], [0.578, -0.145, 1.2], [0.633, -0.12, 2.0],
    [0.650, -0.15, 2.4], [0.642, -0.17, 0.6], [0.435, -0.45, 0.5], [0.338, -0.51, 0.4], [0.362, -0.31, 5.8],
    [0.381, -0.26, 0.4], [0.363, -0.23, 0.4], [0.326, -0.27, 0.4], [0.299, -0.33, 5.6], [0.260, -0.21, 0.4],
    [0.303, -0.27, 0.5], [0.313, -0.24, 0.4], [0.709, -0.11, 0.4], [0.732, -0.09, 2.2], [0.815, -0.125, 0.8],
    [0.870, -0.28, 0.6], [0.388, -0.13, 0.4], [0.471, -0.145, 0.3], [0.485, -0.13, 0.4], [0.509, -0.06, 0.3],
    [0.527, -0.11, 0.3], [0.614, -0.07, 0.3],
];

// matplotlib "coolwarm", 33 evenly spaced stops
const coolwarm = [
    [59, 76, 192], [68, 90, 204], [77, 104, 215], [87, 117, 225], [98, 130, 234], [108, 142, 241],
    [119, 154, 247], [130, 165, 251], [141, 176, 254], [152, 185, 255], [163, 194, 255], [174, 201, 253],
    [184, 208, 249], [194, 213, 244], [204, 217, 238], [213, 219, 230], [221, 221, 221], [229, 216, 209],
    [236, 211, 197], [241, 204, 185], [245, 196, 173], [247, 187, 160], [247, 177, 148], [247, 166, 135],
    [244, 154, 123], [241, 141, 111], [236, 127, 99], [229, 112, 88], [222, 96, 77], [213, 80, 66],
    [203, 62, 56], [192, 40, 47], [180, 4, 38],
];

function coolwarmAt(t: number) {
    const pos = Math.min(1, Math.max(0, t)) * (coolwarm.length - 1);
    const i = Math.min(coolwarm.length - 2, Math.floor(pos));
    const f = pos - i;
    const a = coolwarm[i];
    const b = coolwarm[i + 1];
    return `rgb(${Math.round(a[0] + (b[0] - a[0]) * f)}, ${Math.round(a[1] + (b[1] - a[1]) * f)}, ${Math.round(a[2] + (b[2] - a[2]) * f)})`;
}

function colourFor(value: number) {
    return coolwarmAt((value - colorMin) / (colorMax - colorMin));
}

function unpack(columns: Column[]): Point[] {
    const out: Point[] = [];
    columns.forEach(col => {
        for (let i = 1; i + 1 < col.length; i += 2) {
            out.push([col[0], col[i], col[i + 1]]);
        }
    });
    return out;
}

const FONT = "'DejaVu Sans', sans-serif";

const framePlugin = {
    id: 'frame',
    afterDraw(chart: Chart) {
        const { ctx, chartArea } = chart;
        ctx.save();
        ctx.strokeStyle = '#000';
        ctx.lineWidth = 1;
        ctx.strokeRect(
            Math.round(chartArea.left) + 0.5,
            Math.round(chartArea.top) + 0.5,
            Math.round(chartArea.right - chartArea.left),
            Math.round(chartArea.bottom - chartArea.top),
        );
        ctx.restore();
    },
};

const gradientPlugin = {
    id: 'colorbarFill',
    beforeDatasetsDraw(chart: Chart) {
        const { ctx, chartArea } = chart;
        const grad = ctx.createLinearGradient(0, chartArea.bottom, 0, chartArea.top);
        coolwarm.forEach((_, i) => {
            const t = i / (coolwarm.length - 1);
            grad.addColorStop(t, coolwarmAt(t));
        });
        ctx.save();
        ctx.fillStyle = grad;
        ctx.fillRect(chartArea.left, chartArea.top, chartArea.right - chartArea.left, chartArea.bottom - chartArea.top);
        ctx.restore();
    },
};

export default function App() {
    const chartRef = useRef<HTMLCanvasElement>(null);
    const barRef = useRef<HTMLCanvasElement>(null);

    useEffect(() => {
        if (!chartRef.current || !barRef.current) return;

        const points: Point[] = [
            ...unpack(nearZeroColumns),
            ...unpack(nearZeroFill),
            ...unpack(middleColumns),
            ...unpack(middleFill),
            ...unpack(tailColumns),
            ...unpack(tailFill),
            ...unpack(flatColumns),
            ...upperStragglers,
            ...lowerStragglers,
        ];

        const main = new Chart(chartRef.current, {
            type: 'scatter',
            data: {
                datasets: [{
                    data: points.map(p => ({ x: p[0], y: p[1] })),
                    backgroundColor: points.map(p => colourFor(p[2])),
                    pointRadius: 3.5,
                    pointBorderWidth: 0,
                    borderWidth: 0,
                }],
            },
            options: {
                animation: false,
                responsive: false,
                events: [],
                layout: { padding: { top: 109, right: 26, bottom: 0, left: 0 } },
                plugins: {
                    legend: { display: false },
                    tooltip: { enabled: false },
                },
                scales: {
                    x: {
                        type: 'linear',
                        min: -0.0545,
                        max: 1.056,
                        z: 1,
                        afterBuildTicks: (axis: any) => { axis.ticks = xTicks.map(value => ({ value })); },
                        afterFit: (axis: any) => { axis.height = 100; },
                        grid: { color: '#b0b0b0', lineWidth: 1, tickColor: '#000', tickLength: 5 },
                        border: { display: false },
                        ticks: {
                            color: '#000',
                            font: { family: FONT, size: 13 },
                            padding: 4,
                            maxRotation: 0,
                            callback: (v: any) => Number(v).toFixed(1),
                        },
                        title: {
                            display: true,
                            text: 'participation rate',
                            color: '#000',
                            font: { family: FONT, size: 14 },
                            padding: { top: 0, bottom: 56 },
                        },
                    },
                    y: {
                        type: 'linear',
                        min: -2.672,
                        max: 3.049,
                        z: 1,
                        afterBuildTicks: (axis: any) => { axis.ticks = yTicks.map(value => ({ value })); },
                        afterFit: (axis: any) => { axis.width = 160; },
                        grid: { color: '#b0b0b0', lineWidth: 1, tickColor: '#000', tickLength: 5 },
                        border: { display: false },
                        ticks: {
                            color: '#000',
                            font: { family: FONT, size: 13 },
                            padding: 4,
                            callback: (v: any) => (Number(v) === 0 ? '0.00' : ''),
                        },
                        title: {
                            display: true,
                            text: 'market impact',
                            color: '#000',
                            font: { family: FONT, size: 14 },
                            padding: { top: 85, bottom: 0 },
                        },
                    },
                },
            },
            plugins: [framePlugin],
        });

        const bar = new Chart(barRef.current, {
            type: 'scatter',
            data: { datasets: [] },
            options: {
                animation: false,
                responsive: false,
                events: [],
                layout: { padding: { top: 109, right: 0, bottom: 100, left: 13 } },
                plugins: {
                    legend: { display: false },
                    tooltip: { enabled: false },
                },
                scales: {
                    x: { display: false, min: 0, max: 1 },
                    y: {
                        position: 'right',
                        min: colorMin,
                        max: colorMax,
                        z: 1,
                        afterBuildTicks: (axis: any) => { axis.ticks = colorTicks.map(value => ({ value })); },
                        afterFit: (axis: any) => { axis.width = 72; },
                        grid: { drawOnChartArea: false, tickColor: '#000', tickLength: 5 },
                        border: { display: false },
                        ticks: {
                            color: '#000',
                            font: { family: FONT, size: 10.5 },
                            padding: 10,
                            callback: (v: any) => Number(v).toFixed(1),
                        },
                    },
                },
            },
            plugins: [gradientPlugin, framePlugin],
        });

        return () => {
            main.destroy();
            bar.destroy();
        };
    }, []);

    return (
        <div style={{ position: 'absolute', left: 0, top: 0, width: 1280, height: 907, background: '#fff' }}>
            <canvas
                ref={chartRef}
                width={980}
                height={907}
                style={{ position: 'absolute', left: 0, top: 0, width: 980, height: 907 }}
            />
            <canvas
                ref={barRef}
                width={120}
                height={907}
                style={{ position: 'absolute', left: 990, top: 0, width: 120, height: 907 }}
            />
        </div>
    );
}
